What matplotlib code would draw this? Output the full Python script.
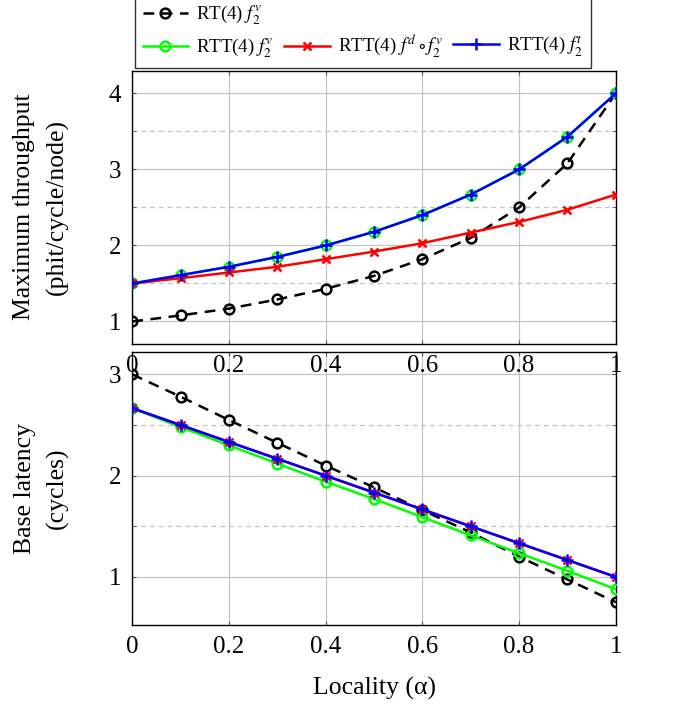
import matplotlib
matplotlib.use("Agg")
import matplotlib.pyplot as plt
from matplotlib.lines import Line2D
from matplotlib.ticker import MultipleLocator, FuncFormatter

plt.rcParams['font.family'] = ['Liberation Serif', 'DejaVu Serif']
plt.rcParams['mathtext.fontset'] = 'stix'

alpha = [0.0, 0.1, 0.2, 0.3, 0.4, 0.5, 0.6, 0.7, 0.8, 0.9, 1.0]

# Maximum throughput (phit/cycle/node)
thr_rt = [1.0, 1.08, 1.17, 1.29, 1.43, 1.60, 1.82, 2.10, 2.50, 3.08, 4.0]
thr_rtt_v = [1.5, 1.61, 1.72, 1.85, 2.0, 2.18, 2.40, 2.67, 3.0, 3.43, 4.0]
thr_rtt_dv = [1.5, 1.57, 1.645, 1.72, 1.82, 1.92, 2.03, 2.17, 2.31, 2.47, 2.67]
thr_rtt_t = [1.5, 1.61, 1.72, 1.85, 2.0, 2.18, 2.40, 2.67, 3.0, 3.43, 4.0]

# Base latency (cycles)
lat_rt = [3.0, 2.78, 2.55, 2.325, 2.10, 1.885, 1.66, 1.44, 1.20, 0.975, 0.75]
lat_rtt_v = [2.667, 2.48, 2.30, 2.12, 1.94, 1.77, 1.59, 1.41, 1.235, 1.06, 0.88]
lat_rtt_dv = [2.667, 2.5, 2.333, 2.167, 2.0, 1.833, 1.667, 1.5, 1.333, 1.167, 1.0]
lat_rtt_t = [2.667, 2.5, 2.333, 2.167, 2.0, 1.833, 1.667, 1.5, 1.333, 1.167, 1.0]

labels = [r'RT(4) $f_2^v$', r'RTT(4) $f_2^v$', r'RTT(4) $f^d\circ f_2^v$', r'RTT(4) $f_2^t$']
colors = ['black', '#00ff00', '#ff0000', '#0000ff']
markers = ['o', 'o', 'x', '+']
msizes = [7, 7, 6, 8]
styles = [(0, (4.3, 3.0)), '-', '-', '-']

W, H = 681, 704
fig = plt.figure(figsize=(W / 100, H / 100), dpi=100)

def ax_rect(l, t, r, b):
    return [l / W, 1 - b / H, (r - l) / W, (b - t) / H]

ax1 = fig.add_axes(ax_rect(132.3, 70.7, 615.7, 344.3))
ax2 = fig.add_axes(ax_rect(132.3, 351.7, 615.7, 625.0))
ax1.set_zorder(2)
ax2.set_zorder(1)

def xfmt(v, pos):
    return '%g' % round(v, 2)

def draw(ax, series, ylim):
    handles = []
    for s, c, m, ms, ls in zip(series, colors, markers, msizes, styles):
        h, = ax.plot(alpha, s, color=c, marker=m, linestyle=ls, lw=1.8,
                     markersize=ms, markerfacecolor='none',
                     markeredgewidth=1.8, zorder=3)
        handles.append(h)
    ax.set_xlim(0, 1)
    ax.set_ylim(*ylim)
    ax.xaxis.set_major_locator(MultipleLocator(0.2))
    ax.yaxis.set_major_locator(MultipleLocator(1))
    ax.yaxis.set_minor_locator(MultipleLocator(0.5))
    ax.xaxis.set_major_formatter(FuncFormatter(xfmt))
    ax.yaxis.set_major_formatter(FuncFormatter(lambda v, p: '%d' % round(v)))
    ax.grid(True, which='major', color='#c4c4c4', lw=0.9, zorder=0)
    ax.grid(True, which='minor', axis='y', color='#c4c4c4', lw=0.9, ls=(0, (4, 3)), zorder=0)
    ax.tick_params(which='both', direction='in', length=3, color='#555555',
                   top=True, right=True, labelsize=18, pad=8)
    ax.tick_params(axis='x', which='minor', length=0)
    for sp in ax.spines.values():
        sp.set_linewidth(1.0)
        sp.set_color('black')
    ax.set_axisbelow(True)
    return handles

handles = draw(ax1, [thr_rt, thr_rtt_v, thr_rtt_dv, thr_rtt_t], (0.7, 4.3))
draw(ax2, [lat_rt, lat_rtt_v, lat_rtt_dv, lat_rtt_t], (0.525, 3.225))

fig.text(24 / W, 1 - 207 / H, 'Maximum throughput', rotation=90, ha='center', va='center', fontsize=18.5)
fig.text(57 / W, 1 - 207 / H, '(phit/cycle/node)', rotation=90, ha='center', va='center', fontsize=18.5)
fig.text(25 / W, 1 - 488 / H, 'Base latency', rotation=90, ha='center', va='center', fontsize=18.5)
fig.text(57 / W, 1 - 488 / H, '(cycles)', rotation=90, ha='center', va='center', fontsize=18.5)
fig.text(374 / W, 1 - 688 / H, 'Locality (\u03b1)', ha='center', va='center', fontsize=18.5)

blank = Line2D([], [], color='none')
leg_handles = [handles[0], handles[1], blank, handles[2], blank, handles[3]]
leg_labels = [labels[0], labels[1], '', labels[2], '', labels[3]]
leg = fig.legend(leg_handles, leg_labels, ncol=3, loc='lower left',
                 bbox_to_anchor=(135 / W, 1 - 68 / H), fontsize=13.6,
                 frameon=True, fancybox=False, edgecolor='black',
                 handlelength=2.4, handletextpad=0.45, columnspacing=0.55,
                 borderpad=0.4, labelspacing=0.5, borderaxespad=0)
leg.get_frame().set_linewidth(1.0)

fig.savefig('out.png', dpi=100)
